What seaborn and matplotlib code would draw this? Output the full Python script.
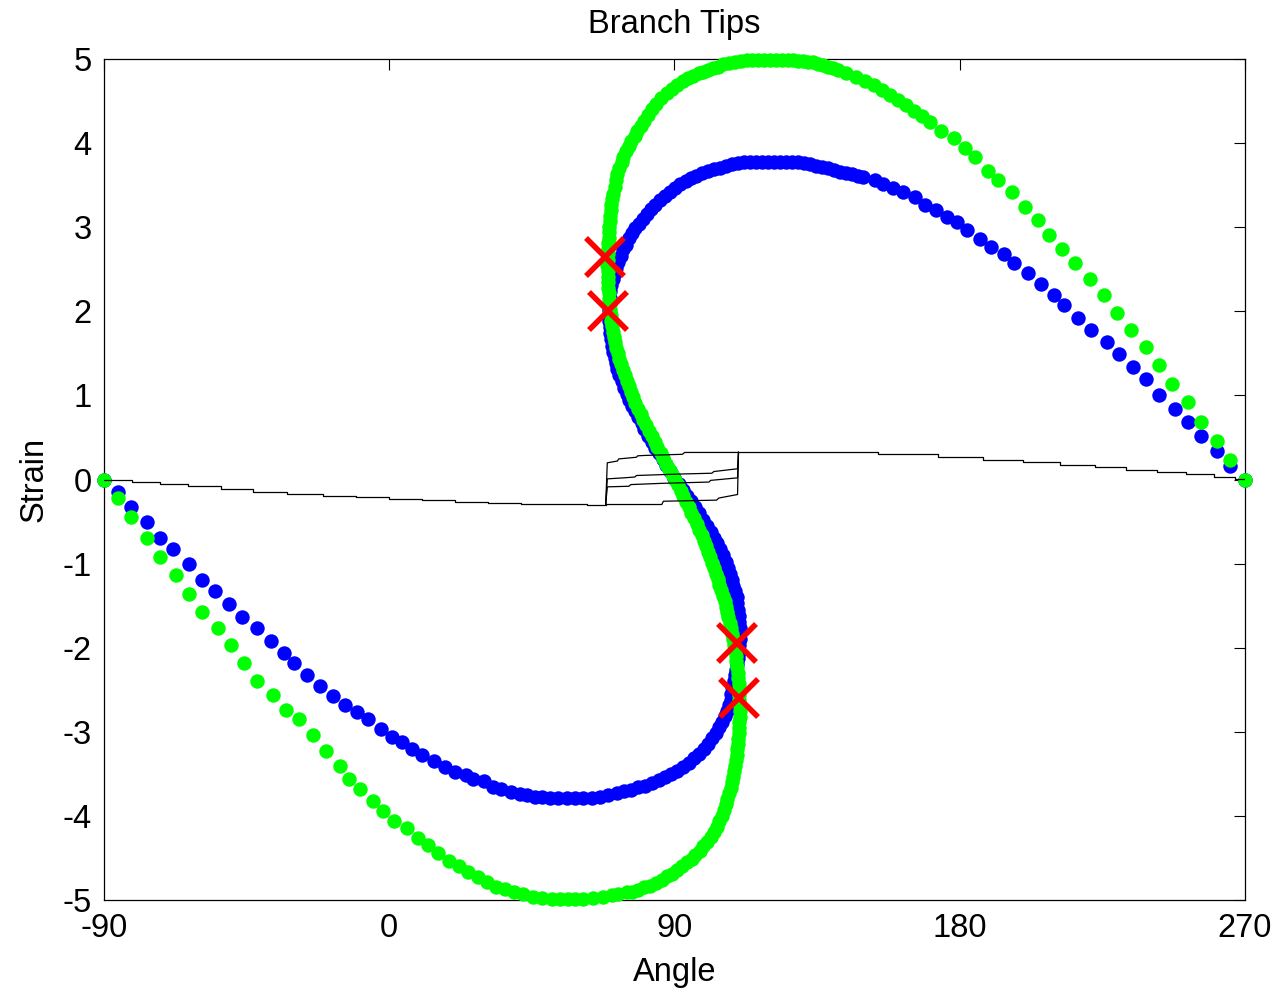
import matplotlib
matplotlib.use("Agg")
import matplotlib.pyplot as plt
import seaborn as sns

# ---- blue branch tip (angle in degrees, strain) ----
blue_angle = [
    -90.0, -85.5, -81.5, -76.4, -72.3, -68.1, -63.2, -59.0, -54.9, -50.7,
    -46.6, -41.6, -37.4, -33.3, -30.1, -25.9, -21.8, -17.7, -14.0, -10.1,
    -6.6, -2.7, 0.8, 3.9, 7.1, 10.4, 14.1, 17.5, 20.8, 24.2,
    26.5, 29.9, 32.8, 35.2, 38.3, 41.3, 43.4, 46.0, 48.1, 50.7,
    53.3, 56.0, 58.6, 61.2, 63.9, 66.5, 69.1, 71.8,
    74.1, 76.3, 78.5, 80.7, 82.9, 85.1, 87.0, 88.9, 90.8, 92.7,
    94.6, 96.2, 97.7, 99.3, 100.6, 101.8, 103.1, 104.0, 105.0, 105.9,
    106.6, 107.2, 107.7, 107.9, 108.3, 108.7, 109.1, 109.5, 109.8, 110.0,
    110.2, 110.4, 110.6, 110.8, 110.7, 110.5, 110.3, 110.1, 109.8, 109.6,
    109.0, 108.5, 108.0, 107.5, 107.0, 106.1, 105.2, 104.4, 103.5, 102.6,
    101.6, 100.3, 99.1, 97.8, 96.6, 95.3, 94.0, 92.7, 91.4, 90.0,
    88.7, 87.4, 86.3, 85.1, 83.9, 82.8, 81.6, 80.5, 79.6, 78.6,
    77.6, 76.6, 75.6, 74.9, 74.1, 73.3, 72.6, 72.0, 71.5, 71.1,
    70.6, 70.3, 70.0, 69.7, 69.5, 69.3, 69.2, 69.2, 69.3, 69.5,
    69.8, 70.1, 70.6, 71.1, 71.7, 72.3, 73.0, 73.8, 74.7, 75.6,
    76.6, 77.7, 78.8, 80.1, 81.3, 82.6, 84.0, 85.4, 87.0, 88.6,
    90.2, 91.7, 93.5, 95.2, 96.9, 98.7, 100.6, 102.5, 104.4, 106.2,
    108.1, 110.0, 111.9, 113.8, 115.7, 117.6, 119.5, 121.4, 123.3, 125.2,
    127.1, 129.0, 130.9, 132.8, 134.6, 136.5, 138.4, 140.3, 142.2, 144.1,
    146.0, 147.9, 149.6,
    153.3, 155.9, 159.0, 162.2, 165.9, 169.0, 172.5, 175.9, 179.0, 182.4,
    186.4, 189.9, 194.0, 197.2, 201.4, 205.5, 209.7, 213.0, 217.2, 221.3,
    226.4, 230.3, 234.6, 238.7, 242.9, 247.9, 252.1, 256.0, 261.1, 265.3,
    270.0,
]
blue_strain = [
    0.00, -0.15, -0.33, -0.51, -0.69, -0.83, -1.01, -1.19, -1.33, -1.48,
    -1.63, -1.77, -1.92, -2.06, -2.18, -2.33, -2.45, -2.57, -2.68, -2.76,
    -2.85, -2.97, -3.06, -3.12, -3.20, -3.27, -3.35, -3.42, -3.48, -3.51,
    -3.56, -3.59, -3.65, -3.68, -3.72, -3.74, -3.75, -3.77, -3.77, -3.79,
    -3.79, -3.79, -3.79, -3.79, -3.79, -3.77, -3.75, -3.73,
    -3.70, -3.69, -3.66, -3.64, -3.61, -3.57, -3.54, -3.50, -3.47, -3.42,
    -3.37, -3.31, -3.26, -3.20, -3.14, -3.07, -3.01, -2.94, -2.88, -2.81,
    -2.75, -2.68, -2.62, -2.55, -2.47, -2.40, -2.33, -2.26, -2.19, -2.12,
    -2.05, -1.97, -1.90, -1.83, -1.76, -1.69, -1.62, -1.55, -1.47, -1.40,
    -1.33, -1.26, -1.19, -1.12, -1.05, -0.98, -0.90, -0.83, -0.76, -0.69,
    -0.62, -0.55, -0.48, -0.40, -0.33, -0.26, -0.19, -0.12, -0.05, 0.02,
    0.10, 0.17, 0.24, 0.31, 0.38, 0.45, 0.52, 0.60, 0.67, 0.74,
    0.81, 0.88, 0.95, 1.02, 1.09, 1.17, 1.24, 1.31, 1.38, 1.45,
    1.52, 1.59, 1.67, 1.74, 1.81, 1.88, 1.95, 2.02, 2.09, 2.16,
    2.24, 2.31, 2.38, 2.45, 2.52, 2.59, 2.66, 2.74, 2.79, 2.87,
    2.93, 2.99, 3.04, 3.10, 3.16, 3.22, 3.27, 3.32, 3.37, 3.42,
    3.47, 3.51, 3.55, 3.58, 3.61, 3.64, 3.67, 3.69, 3.71, 3.73,
    3.75, 3.76, 3.77, 3.78, 3.78, 3.78, 3.78, 3.78, 3.78, 3.78,
    3.78, 3.77, 3.76, 3.75, 3.73, 3.72, 3.70, 3.68, 3.66, 3.65,
    3.63, 3.61, 3.60,
    3.56, 3.51, 3.47, 3.42, 3.36, 3.27, 3.21, 3.12, 3.06, 2.97,
    2.86, 2.77, 2.68, 2.57, 2.45, 2.33, 2.19, 2.07, 1.92, 1.78,
    1.63, 1.49, 1.34, 1.19, 1.01, 0.84, 0.69, 0.52, 0.34, 0.16,
    0.00,
]

# ---- green branch tip ----
green_angle = [
    -90.0, -85.5, -81.5, -76.4, -72.3, -67.3, -63.2, -59.0, -54.1, -49.9,
    -45.8, -41.6, -36.8, -32.5, -28.4, -24.2, -20.0, -15.5, -12.6, -9.2,
    -5.2, -2.1, 1.5, 5.7, 9.0, 12.3, 15.5, 18.9, 22.1, 24.8,
    27.9, 30.7, 33.7, 36.5, 39.4, 42.3, 45.3, 48.1, 51.3, 53.9,
    56.5, 58.6, 61.2, 64.4, 67.5, 70.2, 72.3,
    74.9, 76.6, 78.5, 80.4, 82.3, 84.2, 86.1, 87.6, 89.2, 90.8,
    92.4, 93.9, 95.4, 96.6, 97.9, 99.1, 100.3, 101.4, 102.5, 103.4,
    104.2, 105.0, 105.6, 106.2, 106.7, 107.2, 107.7, 108.1, 108.5, 108.8,
    109.1, 109.3, 109.6, 109.8, 110.0, 110.1, 110.3, 110.4, 110.5, 110.6,
    110.7, 110.7, 110.5, 110.4, 110.3, 110.2, 110.0, 109.9, 109.8, 109.5,
    109.3, 109.0, 108.8, 108.5, 108.3, 107.9, 107.4, 107.0, 106.6, 106.2,
    105.8, 105.3, 104.7, 104.1, 103.6, 103.0, 102.4, 101.9, 101.2, 100.6,
    99.9, 99.2, 98.6, 97.8, 97.0, 96.2, 95.3, 94.5, 93.7, 92.8,
    91.9, 91.0, 90.1, 89.2, 88.3, 87.4, 86.5, 85.6, 84.6, 83.7,
    82.8, 81.9, 81.0, 80.2, 79.4, 78.5, 77.7, 76.9, 76.3, 75.6,
    74.9, 74.3, 73.6, 73.0, 72.6, 72.1, 71.7, 71.3, 70.9, 70.5,
    70.3, 70.1, 69.9, 69.7, 69.5, 69.3, 69.2, 69.1, 69.0, 69.0,
    68.9, 68.8, 68.9, 69.0, 69.0, 69.1, 69.2, 69.3, 69.4, 69.6,
    69.7, 69.9, 70.1, 70.2, 70.6, 71.1, 71.5, 72.0, 72.6, 73.3,
    73.9, 74.7, 75.5, 76.4, 77.4, 78.3, 79.4, 80.4, 81.6, 82.8,
    84.3, 85.9, 87.5, 89.2, 90.9, 92.8, 94.4, 96.0, 97.6, 99.1,
    100.7, 102.2, 103.8, 105.4, 107.2, 109.1, 111.0, 112.8, 114.6, 116.4,
    118.2, 120.1, 122.0, 123.9, 125.7, 127.4, 129.0, 130.5, 132.1, 133.7,
    135.3, 136.9, 138.4, 140.0, 141.6, 144.1, 147.3, 150.1, 152.8, 155.5,
    158.0, 160.5, 163.0, 165.6, 168.1,
    170.6, 174.1, 178.3, 181.7, 184.8, 189.0, 192.2, 196.6, 200.6, 204.8,
    208.2, 212.2, 216.4, 221.1, 225.5, 229.7, 233.9, 238.7, 242.9, 247.1,
    252.1, 256.0, 261.1, 265.3, 270.0,
]
green_strain = [
    0.00, -0.22, -0.45, -0.69, -0.92, -1.13, -1.36, -1.57, -1.77, -1.97,
    -2.18, -2.39, -2.56, -2.74, -2.85, -3.04, -3.23, -3.41, -3.56, -3.68,
    -3.82, -3.94, -4.06, -4.14, -4.26, -4.35, -4.44, -4.53, -4.60, -4.67,
    -4.73, -4.79, -4.84, -4.87, -4.90, -4.93, -4.96, -4.98, -4.99, -4.99,
    -4.99, -4.99, -4.99, -4.98, -4.96, -4.94, -4.93,
    -4.91, -4.90, -4.88, -4.85, -4.83, -4.80, -4.76, -4.72, -4.69, -4.64,
    -4.60, -4.55, -4.51, -4.47, -4.42, -4.36, -4.31, -4.25, -4.19, -4.13,
    -4.06, -4.00, -3.93, -3.86, -3.80, -3.73, -3.67, -3.60, -3.54, -3.47,
    -3.41, -3.34, -3.28, -3.21, -3.15, -3.08, -3.01, -2.95, -2.88, -2.82,
    -2.75, -2.69, -2.62, -2.56, -2.49, -2.43, -2.36, -2.30, -2.23, -2.16,
    -2.10, -2.03, -1.97, -1.90, -1.84, -1.77, -1.71, -1.64, -1.58, -1.51,
    -1.45, -1.38, -1.31, -1.25, -1.18, -1.12, -1.05, -0.99, -0.92, -0.86,
    -0.79, -0.73, -0.66, -0.60, -0.53, -0.46, -0.40, -0.33, -0.27, -0.20,
    -0.14, -0.07, -0.01, 0.06, 0.13, 0.19, 0.26, 0.32, 0.39, 0.45,
    0.52, 0.58, 0.65, 0.71, 0.78, 0.84, 0.91, 0.98, 1.04, 1.11,
    1.17, 1.24, 1.30, 1.37, 1.43, 1.50, 1.56, 1.63, 1.69, 1.76,
    1.83, 1.89, 1.96, 2.02, 2.09, 2.15, 2.22, 2.28, 2.35, 2.41,
    2.48, 2.55, 2.61, 2.68, 2.74, 2.81, 2.87, 2.94, 3.00, 3.07,
    3.13, 3.20, 3.26, 3.33, 3.40, 3.48, 3.56, 3.63, 3.70, 3.77,
    3.84, 3.91, 3.97, 4.03, 4.08, 4.14, 4.20, 4.26, 4.33, 4.41,
    4.47, 4.54, 4.60, 4.64, 4.69, 4.74, 4.77, 4.80, 4.83, 4.85,
    4.87, 4.89, 4.91, 4.94, 4.95, 4.96, 4.98, 4.99, 4.99, 4.99,
    4.99, 4.99, 4.99, 4.99, 4.99, 4.99, 4.98, 4.98, 4.97, 4.96,
    4.94, 4.93, 4.91, 4.89, 4.87, 4.83, 4.79, 4.74, 4.69, 4.63,
    4.57, 4.51, 4.45, 4.38, 4.32,
    4.25, 4.14, 4.06, 3.94, 3.83, 3.67, 3.56, 3.42, 3.24, 3.09,
    2.91, 2.74, 2.57, 2.39, 2.19, 1.98, 1.78, 1.57, 1.36, 1.13,
    0.92, 0.69, 0.46, 0.23, 0.00,
]

# ---- black staircase traces ----
left_angle = [-90.0, -81.2, -72.3, -63.5, -53.1, -43.0, -32.3, -20.9, -10.5,
              -0.1, 10.3, 20.7, 31.2, 41.6, 52.0, 62.4, 68.3]
left_strain = [0.000, -0.027, -0.051, -0.080, -0.111, -0.143, -0.167, -0.190,
               -0.210, -0.230, -0.247, -0.262, -0.275, -0.285, -0.292, -0.297,
               -0.297]
right_angle = [110.2, 154.2, 173.1, 187.3, 199.9, 211.6, 222.6, 232.4, 242.2,
               251.4, 260.2, 266.8, 270.0]
right_strain = [0.325, 0.306, 0.270, 0.238, 0.211, 0.178, 0.146, 0.119, 0.092,
                0.068, 0.036, 0.012, 0.000]
mid_angle = [
    [68.3, 68.8, 72.0, 72.4, 78.0, 78.4, 81.0, 92.5, 93.2, 110.0, 110.2],
    [68.3, 68.8, 74.0, 77.5, 78.0, 91.3, 101.8, 102.4, 109.9, 110.2],
    [68.3, 68.8, 75.6, 76.2, 86.2, 100.9, 101.4, 109.9, 110.2],
    [68.3, 86.0, 86.5, 103.3, 104.0, 109.9, 110.2],
]
mid_strain = [
    [-0.297, 0.199, 0.220, 0.245, 0.265, 0.282, 0.287, 0.300, 0.322, 0.322, 0.325],
    [-0.297, 0.008, 0.020, 0.030, 0.048, 0.065, 0.075, 0.095, 0.128, 0.325],
    [-0.297, -0.087, -0.080, -0.060, -0.045, -0.030, -0.010, 0.020, 0.325],
    [-0.297, -0.297, -0.258, -0.245, -0.220, -0.178, 0.325],
]

# ---- marked tips ----
cross_angle = [68.1, 69.0, 109.7, 110.3]
cross_strain = [2.65, 2.00, -1.94, -2.60]

x_ticks = [-90, 0, 90, 180, 270]
y_ticks = [-5, -4, -3, -2, -1, 0, 1, 2, 3, 4, 5]

sns.set_theme(style="white")
plt.rcParams["font.family"] = ["Liberation Sans", "DejaVu Sans"]
plt.rcParams["axes.unicode_minus"] = False
plt.rcParams["text.color"] = "black"
plt.rcParams["axes.labelcolor"] = "black"

fig = plt.figure(figsize=(12.79, 9.92), dpi=100)
ax = fig.add_axes([0.0813, 0.0927, 0.8921, 0.8478])

dot_size = 108
sns.scatterplot(x=blue_angle, y=blue_strain, color="#0000ff", s=dot_size,
                linewidth=0, ax=ax, clip_on=False, zorder=2, legend=False)
sns.scatterplot(x=green_angle, y=green_strain, color="#00ff00", s=dot_size,
                linewidth=0, ax=ax, clip_on=False, zorder=3, legend=False)

line_kw = dict(color="black", linewidth=0.9, zorder=4)
ax.plot(left_angle, left_strain, drawstyle="steps-post", **line_kw)
ax.plot(right_angle, right_strain, drawstyle="steps-post", **line_kw)
for xs, ys in zip(mid_angle, mid_strain):
    sns.lineplot(x=xs, y=ys, sort=False, estimator=None, ax=ax, legend=False,
                 **line_kw)

ax.plot(cross_angle, cross_strain, linestyle="none", marker="x",
        markersize=28, markeredgewidth=4, color="#ff0000", zorder=5,
        clip_on=False)

ax.set_xlim(-90, 270)
ax.set_ylim(-5, 5)
ax.set_xticks(x_ticks)
ax.set_yticks(y_ticks)
ax.tick_params(direction="in", length=8, width=0.8, top=True, right=True,
               labelsize=23.5, pad=9, colors="black")
for sp in ax.spines.values():
    sp.set_color("black")
    sp.set_linewidth(0.9)

ax.set_title("Branch Tips", fontsize=23.5, pad=19, color="black")
ax.set_xlabel("Angle", fontsize=23.5, labelpad=10)
ax.set_ylabel("Strain", fontsize=23.5, labelpad=9)

fig.savefig("out.png", dpi=100, facecolor="white")
